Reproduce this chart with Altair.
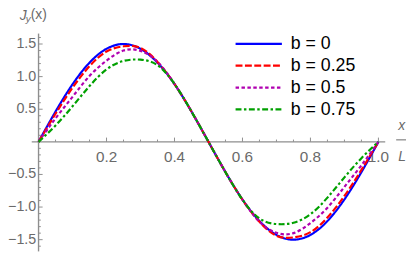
import altair as alt
import pandas as pd

# ---- data ----
x_vals = [0.0, 0.05, 0.1, 0.15, 0.2, 0.25, 0.3, 0.35, 0.4, 0.45, 0.5,
          0.55, 0.6, 0.65, 0.7, 0.75, 0.8, 0.85, 0.9, 0.95, 1.0]
b0 = [0, 0.464, 0.882, 1.214, 1.427, 1.5, 1.427, 1.214, 0.885, 0.464, 0,
      -0.464, -0.885, -1.214, -1.427, -1.5, -1.427, -1.214, -0.882, -0.464, 0]
b025 = [0, 0.43, 0.83, 1.16, 1.385, 1.465, 1.44, 1.225, 0.888, 0.465, 0,
        -0.465, -0.888, -1.225, -1.44, -1.465, -1.385, -1.16, -0.83, -0.43, 0]
b05 = [0, 0.36, 0.69, 1.01, 1.245, 1.40, 1.395, 1.225, 0.888, 0.465, 0,
       -0.465, -0.888, -1.225, -1.395, -1.40, -1.245, -1.01, -0.69, -0.36, 0]
b075 = [0, 0.25, 0.545, 0.855, 1.11, 1.24, 1.26, 1.175, 0.888, 0.465, 0,
        -0.465, -0.888, -1.175, -1.26, -1.24, -1.11, -0.855, -0.545, -0.25, 0]
series_vals = [b0, b025, b05, b075]
series_labels = ["b = 0", "b = 0.25", "b = 0.5", "b = 0.75"]

x_major = [0.2, 0.4, 0.6, 0.8, 1.0]
x_major_labels = ["0.2", "0.4", "0.6", "0.8", "1.0"]
x_minor = [0.05, 0.1, 0.15, 0.25, 0.3, 0.35, 0.45, 0.5, 0.55, 0.65, 0.7, 0.75, 0.85, 0.9, 0.95]
y_major = [-1.5, -1.0, -0.5, 0.5, 1.0, 1.5]
y_major_labels = ["\u22121.5", "\u22121.0", "\u22120.5", "0.5", "1.0", "1.5"]
y_minor = [-1.6, -1.4, -1.3, -1.2, -1.1, -0.9, -0.8, -0.7, -0.6, -0.4, -0.3, -0.2, -0.1,
           0.1, 0.2, 0.3, 0.4, 0.6, 0.7, 0.8, 0.9, 1.1, 1.2, 1.3, 1.4, 1.6]

# ---- styles ----
colors = ["#0000ff", "#ff0000", "#b000b0", "#00a000"]
dashes = [[1, 0], [7, 2.5], [3.5, 2.5], [6, 2.5, 2.5, 2.5]]
FONT = "Liberation Sans"
AX = "#8e8e8e"
LBL = "#6a6a6a"

W, H = 405, 246
# pixel mapping: x=0 at chart px 31, 345 px/unit ; y=0 at chart px 134, 66.2 px/unit
X0, X1 = (0 - 31) / 345, (W - 31) / 345
Y1, Y0 = 134 / 66.2, (134 - H) / 66.2
xs = alt.Scale(domain=[X0, X1], nice=False, zero=False)
ys = alt.Scale(domain=[Y0, Y1], nice=False, zero=False)
one = pd.DataFrame({"a": [0]})


def XF(field):
    return alt.X(field, scale=xs, axis=None)


def YF(field):
    return alt.Y(field, scale=ys, axis=None)


def XD(v):
    return alt.X(datum=v, scale=xs, axis=None)


def YD(v):
    return alt.Y(datum=v, scale=ys, axis=None)


layers = []

# axis lines
layers.append(alt.Chart(one).mark_rule(color=AX, strokeWidth=1.4).encode(
    x=XD(-0.02), x2=alt.X2(datum=1.02), y=YD(0)))
layers.append(alt.Chart(one).mark_rule(color=AX, strokeWidth=1.4).encode(
    y=YD(-1.68), y2=alt.Y2(datum=1.66), x=XD(0)))

# x ticks
layers.append(alt.Chart(pd.DataFrame({"v": x_minor})).mark_rule(color=AX, strokeWidth=1).encode(
    x=XF("v:Q"), y=YD(0), y2=alt.Y2(datum=0.035)))
layers.append(alt.Chart(pd.DataFrame({"v": x_major})).mark_rule(color=AX, strokeWidth=1).encode(
    x=XF("v:Q"), y=YD(0), y2=alt.Y2(datum=0.065)))
# y ticks
layers.append(alt.Chart(pd.DataFrame({"v": y_minor})).mark_rule(color=AX, strokeWidth=1).encode(
    y=YF("v:Q"), x=XD(0), x2=alt.X2(datum=0.0067)))
layers.append(alt.Chart(pd.DataFrame({"v": y_major})).mark_rule(color=AX, strokeWidth=1).encode(
    y=YF("v:Q"), x=XD(0), x2=alt.X2(datum=0.012)))

# tick labels
layers.append(alt.Chart(pd.DataFrame({"v": x_major, "t": x_major_labels})).mark_text(
    font=FONT, fontSize=15.5, color=LBL, baseline="middle", align="center", dy=15).encode(
    x=XF("v:Q"), y=YD(0), text="t:N"))
layers.append(alt.Chart(pd.DataFrame({"v": y_major, "t": y_major_labels})).mark_text(
    font=FONT, fontSize=14.5, color=LBL, baseline="middle", align="right", dx=-2.3).encode(
    y=YF("v:Q"), x=XD(0), text="t:N"))

# axis titles
layers.append(alt.Chart(one).mark_text(font=FONT, fontSize=14, fontStyle="italic", color=LBL,
    align="left", baseline="alphabetic", text="J").encode(x=alt.value(12), y=alt.value(10)))
layers.append(alt.Chart(one).mark_text(font=FONT, fontSize=10, fontStyle="italic", color=LBL,
    align="left", baseline="alphabetic", text="y").encode(x=alt.value(18), y=alt.value(12.5)))
layers.append(alt.Chart(one).mark_text(font=FONT, fontSize=14, color=LBL,
    align="left", baseline="alphabetic", text="(x)").encode(x=alt.value(23), y=alt.value(9.5)))
layers.append(alt.Chart(one).mark_text(font=FONT, fontSize=14, fontStyle="italic", color=LBL,
    align="center", baseline="alphabetic", text="x").encode(x=alt.value(399.5), y=alt.value(122)))
layers.append(alt.Chart(one).mark_rule(color=LBL, strokeWidth=1).encode(
    x=alt.value(394), x2=alt.value(404), y=alt.value(132)))
layers.append(alt.Chart(one).mark_text(font=FONT, fontSize=14, fontStyle="italic", color=LBL,
    align="center", baseline="alphabetic", text="L").encode(x=alt.value(400), y=alt.value(153)))

# curves
for vals, lab, col, dsh in zip(series_vals, series_labels, colors, dashes):
    df = pd.DataFrame({"x": x_vals, "y": vals, "s": lab})
    layers.append(alt.Chart(df).mark_line(color=col, strokeDash=dsh, strokeWidth=2.2,
                                          interpolate="natural").encode(
        x=XF("x:Q"), y=YF("y:Q")))

# legend
for i, (lab, col, dsh) in enumerate(zip(series_labels, colors, dashes)):
    yy = 34.5 + 22.2 * i
    ldf = pd.DataFrame({"t": [lab]})
    layers.append(alt.Chart(ldf).mark_rule(color=col, strokeDash=dsh, strokeWidth=2.2).encode(
        x=alt.value(231), x2=alt.value(278), y=alt.value(yy)))
    layers.append(alt.Chart(ldf).mark_text(font=FONT, fontSize=18, color="black",
        align="left", baseline="middle").encode(x=alt.value(287), y=alt.value(yy + 0.5), text="t:N"))

chart = alt.layer(*layers).properties(
    width=W, height=H, autosize=alt.AutoSizeParams(type="none"), padding=0
).configure_view(stroke=None)

chart.save("out.html", embed_options={"renderer": "svg", "actions": False})
